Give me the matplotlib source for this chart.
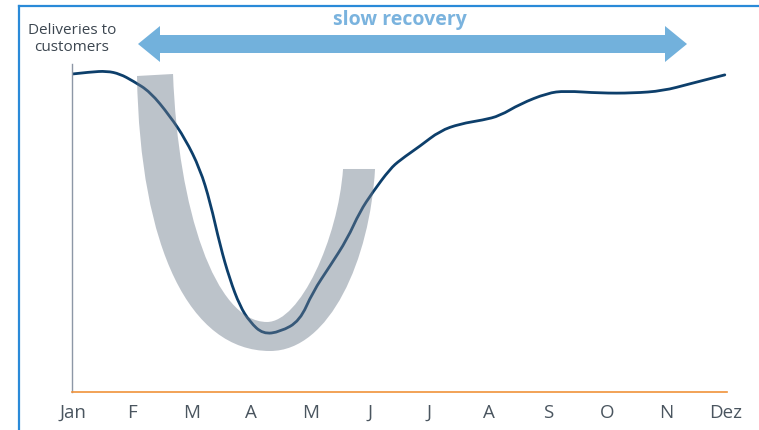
import matplotlib
matplotlib.use("Agg")
import matplotlib.pyplot as plt
from matplotlib.path import Path
from matplotlib.patches import PathPatch, Polygon
from matplotlib.lines import Line2D

plt.rcParams['font.family'] = ['Open Sans', 'DejaVu Sans']

# ---- data ----
months = ['Jan', 'F', 'M', 'A', 'M', 'J', 'J', 'A', 'S', 'O', 'N', 'Dez']
# deliveries curve (month position, index value)
t_pos = [0.00, 0.29, 0.57, 0.79, 1.01, 1.30, 1.63, 1.89, 2.14, 2.31, 2.48, 2.64,
         2.81, 2.98, 3.20, 3.49, 3.82, 4.04, 4.33, 4.62, 4.83, 5.05, 5.34, 5.51,
         5.85, 6.18, 6.52, 6.91, 7.19, 7.53, 7.99, 8.29, 8.88, 9.43, 9.94, 10.39, 10.98]
deliveries = [99.4, 100.0, 100.3, 99.4, 97.2, 93.8, 86.3, 79.1, 69.7, 59.4, 45.6, 35.3,
              26.9, 21.9, 18.1, 18.8, 22.2, 31.3, 39.4, 47.8, 56.3, 62.5, 69.7, 72.5,
              76.9, 81.6, 83.8, 85.0, 86.3, 90.0, 93.4, 94.1, 93.4, 93.4, 94.1, 96.3, 99.1]

y_label = "Deliveries to\ncustomers"
arrow_label = "slow recovery"

W, H = 759, 431
fig = plt.figure(figsize=(W / 100, H / 100), dpi=100)
ax = fig.add_axes([72 / W, 1 - 393 / H, (727 - 72) / W, (393 - 65) / H])
ax.set_xlim(-0.017, 11.017)
ax.set_ylim(0, 102.5)

# ---- smooth rendering of the read points (quadratic curves through midpoints) ----
pts = list(zip(t_pos, deliveries))
lverts = [pts[0]]
lcodes = [Path.MOVETO]
for i in range(1, len(pts) - 1):
    mid = ((pts[i][0] + pts[i + 1][0]) / 2, (pts[i][1] + pts[i + 1][1]) / 2)
    lverts += [pts[i], mid]
    lcodes += [Path.CURVE3, Path.CURVE3]
lverts.append(pts[-1])
lcodes.append(Path.LINETO)
ax.add_patch(PathPatch(Path(lverts, lcodes), facecolor='none', edgecolor='#0d3f6b',
                       lw=2.0, capstyle='round', zorder=2))

# ---- "U" shaped band (decorative, data coordinates) ----
verts = [
    (1.078, 98.75),
    (1.129, 44.69), (1.971, 12.81), (3.319, 12.81),
    (4.330, 12.81), (5.003, 41.56), (5.088, 69.69),
    (4.549, 69.69),
    (4.464, 47.81), (3.824, 21.88), (3.268, 21.88),
    (2.392, 21.88), (1.769, 57.19), (1.685, 99.38),
    (1.078, 98.75),
]
codes = [Path.MOVETO,
         Path.CURVE4, Path.CURVE4, Path.CURVE4,
         Path.CURVE4, Path.CURVE4, Path.CURVE4,
         Path.LINETO,
         Path.CURVE4, Path.CURVE4, Path.CURVE4,
         Path.CURVE4, Path.CURVE4, Path.CURVE4,
         Path.CLOSEPOLY]
band = PathPatch(Path(verts, codes), facecolor='#6c7a8b', edgecolor='none', alpha=0.45, zorder=3)
ax.add_patch(band)

# ---- axes styling ----
for s in ['top', 'right']:
    ax.spines[s].set_visible(False)
ax.spines['left'].set_color('#8d97a6')
ax.spines['left'].set_linewidth(1.0)
ax.spines['bottom'].set_color('#f0923a')
ax.spines['bottom'].set_linewidth(1.2)
ax.set_yticks([])
ax.set_xticks(range(len(months)))
ax.set_xticklabels(months, fontsize=13.5, color='#4a555f')
ax.tick_params(axis='x', length=0, pad=8)

# ---- y label ----
fig.text(72 / W, 1 - 39 / H, y_label, ha='center', va='center', fontsize=11,
         color='#3c4650', linespacing=1.1)

# ---- double headed arrow (figure coordinates) ----
cy = 45
apts = [(138, cy), (160, cy - 18), (160, cy - 9), (665, cy - 9), (665, cy - 18),
        (687, cy), (665, cy + 18), (665, cy + 9), (160, cy + 9), (160, cy + 18)]
arrow = Polygon([(x / W, 1 - y / H) for x, y in apts], closed=True,
                transform=fig.transFigure, facecolor='#72b1dc', edgecolor='none')
fig.patches.append(arrow)
fig.text(400 / W, 1 - 20 / H, arrow_label, ha='center', va='center', fontsize=14,
         fontweight='bold', color='#7ab3de')

# ---- frame lines ----
fig.add_artist(Line2D([19 / W, 19 / W], [0, 1 - 7 / H], color='#2a8ad8', lw=1.6,
                      transform=fig.transFigure))
fig.add_artist(Line2D([19 / W, 1.01], [1 - 7 / H, 1 - 7 / H], color='#2a8ad8', lw=1.6,
                      transform=fig.transFigure))

fig.savefig('out.png', dpi=100)
